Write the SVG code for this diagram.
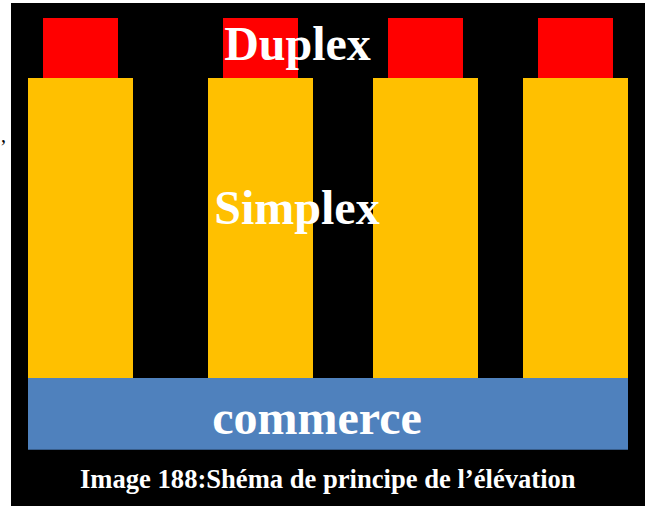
<svg xmlns="http://www.w3.org/2000/svg" width="645" height="506" viewBox="0 0 645 506">
<style>
.red{fill:#FF0000}
.yel{fill:#FFC000}
.lbl{font-family:"Liberation Serif","Times New Roman",serif;font-weight:bold;fill:#FFFFFF}
</style>
<rect width="645" height="506" fill="#FFFFFF"/>
<text x="1" y="142" font-family="Liberation Serif, serif" font-size="20" fill="#000">,</text>
<rect id="frame" x="11" y="3" width="634" height="503" fill="#000000"/>
<g id="duplex">
<rect class="red" x="43" y="18" width="75" height="60"/>
<rect class="red" x="223" y="18" width="75" height="60"/>
<rect class="red" x="388" y="18" width="75" height="60"/>
<rect class="red" x="538" y="18" width="75" height="60"/>
</g>
<g id="simplex">
<rect class="yel" x="28" y="78" width="105" height="300"/>
<rect class="yel" x="208" y="78" width="105" height="300"/>
<rect class="yel" x="373" y="78" width="105" height="300"/>
<rect class="yel" x="523" y="78" width="105" height="300"/>
</g>
<g id="commerce">
<rect x="28" y="378" width="600" height="72" fill="#4F81BD"/>
<line x1="28" y1="449.5" x2="628" y2="449.5" stroke="#385D8A" stroke-width="1"/>
</g>
<g id="labels">
<text class="lbl" x="297.5" y="60" font-size="48" text-anchor="middle">Duplex</text>
<text class="lbl" x="297" y="224" font-size="48" text-anchor="middle">Simplex</text>
<text class="lbl" x="317" y="434" font-size="48" text-anchor="middle">commerce</text>
<text class="lbl" x="80" y="488" font-size="26.6">Image 188:Shéma de principe de l’élévation</text>
</g>
</svg>
